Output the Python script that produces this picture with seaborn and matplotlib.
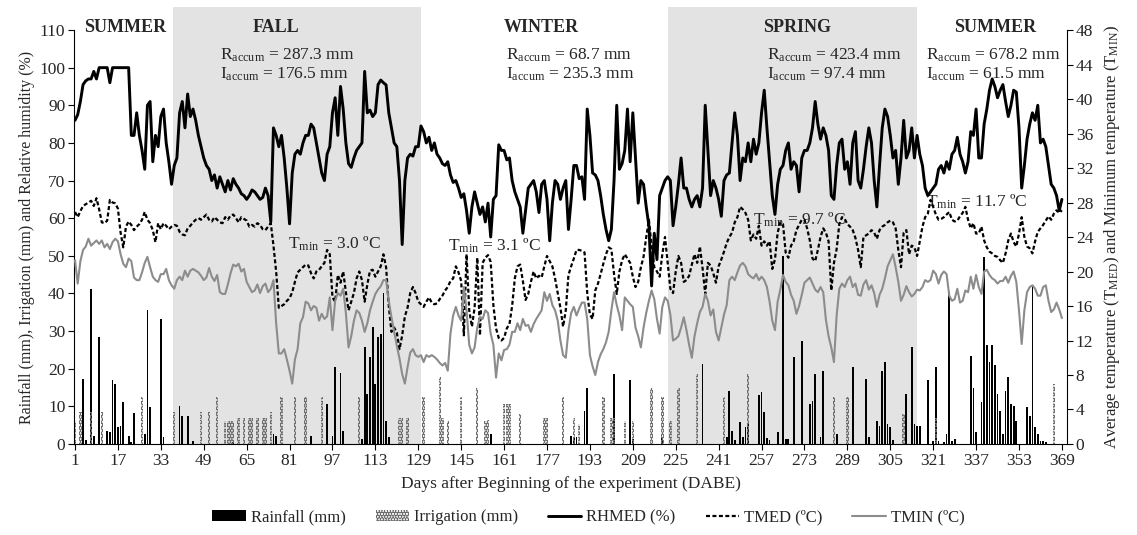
import numpy as np
import matplotlib
matplotlib.use("Agg")
import matplotlib.pyplot as plt
from matplotlib.patches import Patch
from matplotlib.lines import Line2D
import seaborn as sns

# ─────────────────────────────────────────────
# DAILY SERIES (DABE 1..369)
# ─────────────────────────────────────────────
days = np.arange(1, 370)

# relative humidity (%)
rh_summer = [86, 87.5, 91, 95.5, 96.5, 97, 97, 99, 97, 100, 100, 100, 100, 96, 100, 100, 100, 100, 100, 100,
             100, 82, 82, 88, 82, 78, 73, 90, 91, 75, 82, 79, 87, 89, 80, 75, 69, 74, 76, 88,
             91, 84, 93, 87, 89, 86, 82]
rh_fall_a = [79, 76, 74, 73, 70, 71.5, 68, 71, 69, 67, 70, 67.5, 70.5, 69, 68, 66.5, 66, 65, 66, 67.5,
             67, 66, 65, 65.5, 68, 66, 59, 84, 82, 79, 82, 76, 68, 58.5, 72, 77, 78, 77, 80, 82,
             82, 85, 84, 80, 76, 72, 70]
rh_fall_b = [77, 79, 88, 92, 82, 95, 89, 80, 74.5, 73.5, 76, 78, 79, 80, 99, 88, 88.7, 87, 88, 95.5,
             96.7, 96, 95.4, 88, 84, 80, 79, 70, 53, 70, 76, 77, 76.5, 79, 79, 84.5, 83, 80, 81.5, 78,
             80, 77, 76, 74.5, 74, 75]
rh_winter_a = [71.5, 69.5, 70, 68, 65.5, 66.5, 62, 56, 63, 67, 64, 61, 63, 59, 64, 55, 65, 66, 79.5, 78,
               78, 75.5, 76, 70, 67, 65, 63, 56, 62, 68, 69, 70, 67, 61.5, 69, 70, 65, 54, 64, 70,
               69, 65, 68, 70, 57, 65, 74]
rh_winter_b = [74, 70.5, 71, 65, 89, 82, 72, 71.5, 70, 66, 61, 57, 54, 57, 70, 90, 73, 74.5, 78, 89,
               75, 88, 76, 64, 70, 69, 63, 58, 42, 56, 49, 66, 68, 70, 71, 70, 58, 63, 69, 76,
               68, 68, 65, 63, 65, 66]
rh_spring_a = [63, 68, 90, 78, 66, 70, 68, 65, 60.5, 70, 71.5, 72, 80, 88, 82, 70, 76, 75, 80, 75,
               81, 77, 80, 88, 94, 84, 75, 66, 61, 69, 73, 74, 78, 80, 73, 75, 74, 67, 76, 78,
               78, 80, 84, 91, 85, 81, 84]
rh_spring_b = [82, 78, 66, 65, 74, 80, 81, 73, 75, 69, 80, 83, 70, 68, 73, 79, 84, 80, 70, 63,
               74, 84, 89, 87, 82, 76, 78, 69, 76, 86, 76, 78, 84, 76, 82, 77, 74, 68, 66, 67,
               68, 69, 73, 74, 72, 75, 73]
rh_summer2 = [77, 78, 81.5, 77, 75, 72, 75, 83, 82, 89, 76, 76, 85, 89, 94, 97, 95, 92, 94, 95.5,
              91, 87, 90, 94, 93.5, 84, 68, 74, 81, 85, 88, 86, 90, 80, 81, 79, 74, 69, 68, 66,
              62, 65]

# mean temperature (ºC)
tmed_summer = [26.9, 26.3, 27.0, 27.6, 27.8, 28.0, 28.2, 27.6, 28.5, 27.2, 25.7, 25.6, 25.9, 28.3, 28.0,
               27.9, 27.3, 24.5, 22.8, 25.2, 25.8, 25.4, 24.8, 25.2, 25.5, 26.0, 26.9, 26.0, 25.6, 24.8,
               23.4, 25.6, 24.9, 25.6, 25.3, 24.9, 25.2, 25.4, 25.3, 24.6, 24.3, 24.2, 25.0, 25.3, 25.7,
               26.0, 26.2]
tmed_fall_a = [26.0, 26.3, 26.6, 26.0, 25.8, 26.3, 26.0, 25.7, 25.6, 26.3, 26.0, 26.5, 26.6, 26.2, 25.7,
               26.3, 26.1, 25.9, 25.2, 25.4, 25.2, 25.6, 25.4, 24.9, 24.8, 25.2, 25.6, 23.0, 20.0, 15.8,
               16.0, 16.2, 16.6, 16.9, 17.6, 18.8, 19.9, 20.2, 20.5, 20.8, 20.7, 19.8, 19.2, 20.0, 20.2,
               20.6, 21.0]
tmed_fall_b = [22.5, 22.0, 17.0, 16.5, 19.6, 18.7, 20.0, 17.6, 15.5, 16.5, 17.5, 19.2, 20.0, 19.0, 16.5,
               18.5, 20.1, 20.2, 19.4, 20.0, 20.6, 22.0, 20.5, 16.0, 13.0, 13.5, 12.9, 11.0, 12.6, 14.8,
               15.8, 17.5, 18.2, 17.5, 16.5, 16.2, 15.9, 16.5, 17.0, 16.4, 16.2, 16.3, 16.8, 17.2, 17.8,
               18.2]
tmed_winter_a = [18.9, 19.2, 20.6, 19.9, 18.9, 12.6, 22.0, 15.5, 13.6, 15.8, 21.6, 12.6, 21.0, 21.6, 21.9,
                 21.1, 16.1, 13.4, 12.3, 12.0, 12.3, 13.4, 13.9, 16.0, 19.2, 20.6, 20.8, 18.9, 16.7, 17.4,
                 18.8, 20.0, 19.2, 19.5, 19.3, 20.6, 21.8, 21.2, 20.6, 19.2, 17.5, 15.8, 13.6, 15.5, 19.6,
                 20.6, 21.5]
tmed_winter_b = [22.5, 22.5, 22.4, 22.2, 17.5, 15.0, 14.5, 17.8, 18.6, 19.7, 20.9, 22.0, 22.8, 22.6, 19.7,
                 17.4, 20.0, 21.3, 22.0, 21.5, 21.0, 19.4, 18.2, 18.8, 20.5, 21.7, 24.0, 26.0, 23.0, 20.5,
                 20.0, 19.4, 22.0, 24.0, 21.0, 18.0, 17.5, 20.0, 21.8, 21.0, 18.8, 19.0, 19.5, 20.8, 22.0,
                 21.0]
tmed_spring_a = [22.9, 20.4, 17.4, 21.0, 20.7, 19.8, 18.7, 20.6, 21.4, 22.3, 23.3, 24.0, 24.5, 25.7, 26.3,
                 27.5, 27.2, 26.8, 26.0, 23.6, 24.3, 23.8, 25.3, 23.0, 23.5, 23.0, 23.5, 20.3, 21.4, 24.5,
                 25.7, 25.5, 22.2, 21.6, 23.0, 23.5, 24.8, 25.4, 26.0, 26.0, 25.0, 23.6, 21.5, 21.2, 22.5,
                 24.0, 25.0]
tmed_spring_b = [24.5, 23.5, 17.8, 21.0, 22.6, 25.5, 26.3, 26.1, 25.5, 25.2, 24.8, 23.9, 22.5, 20.5, 24.0,
                 24.2, 24.4, 24.8, 24.5, 23.8, 24.8, 25.2, 25.4, 25.7, 25.9, 25.7, 25.0, 22.5, 20.5, 24.5,
                 24.8, 22.0, 23.0, 22.8, 21.8, 23.5, 25.2, 26.3, 26.7, 28.3, 27.5, 26.6, 26.0, 26.1, 26.3,
                 26.6, 26.9]
tmed_summer2 = [26.0, 25.8, 25.9, 26.4, 26.8, 27.5, 26.0, 25.0, 25.6, 24.4, 24.4, 25.2, 23.6, 22.8, 22.3,
                22.1, 21.8, 21.7, 21.3, 21.0, 22.1, 23.6, 24.4, 23.4, 22.9, 24.4, 26.3, 24.0, 22.9, 22.7,
                22.1, 23.5, 24.6, 25.0, 25.4, 25.9, 26.4, 26.0, 26.7, 27.1, 26.8, 27.1]

# minimum temperature (ºC)
tmin_summer = [21.3, 18.6, 21.2, 22.5, 22.9, 23.8, 23.0, 23.3, 23.6, 23.2, 23.6, 22.8, 23.2, 22.6, 23.4,
               23.8, 23.5, 22.0, 20.9, 20.5, 21.5, 21.2, 19.3, 19.0, 19.0, 19.9, 21.0, 21.7, 20.5, 19.4,
               19.0, 18.8, 19.7, 19.7, 20.3, 19.0, 18.4, 18.0, 19.0, 19.4, 19.0, 20.1, 19.4, 20.1, 20.3,
               20.1, 19.9]
tmin_fall_a = [19.5, 19.0, 19.3, 20.4, 19.4, 18.9, 19.6, 17.6, 17.4, 17.4, 18.5, 19.8, 20.8, 20.6, 20.9,
               20.0, 20.3, 18.8, 18.2, 17.6, 17.8, 18.5, 17.5, 18.3, 18.6, 17.6, 18.0, 19.0, 14.0, 10.5,
               10.5, 11.0, 9.8, 8.5, 7.0, 9.8, 11.0, 14.0, 14.7, 16.5, 16.3, 15.5, 16.0, 15.8, 14.3,
               15.1, 14.5]
tmin_fall_b = [14.8, 17.0, 13.2, 16.6, 17.5, 17.2, 18.0, 15.2, 11.2, 12.5, 14.3, 15.5, 15.2, 14.3, 13.0,
               14.0, 15.5, 16.5, 17.4, 17.9, 18.3, 19.0, 19.0, 16.6, 14.7, 13.0, 11.4, 9.9, 8.1, 7.0,
               8.9, 10.6, 11.0, 10.3, 10.1, 10.3, 9.5, 10.3, 10.1, 10.3, 10.1, 9.8, 9.4, 9.1, 9.4,
               8.5]
tmin_winter_a = [12.8, 14.9, 15.9, 14.9, 14.3, 18.2, 15.5, 11.5, 10.5, 11.2, 13.5, 14.7, 14.5, 15.5, 15.2,
                 12.8, 11.5, 7.7, 10.5, 9.7, 10.9, 11.0, 11.5, 13.0, 13.0, 14.0, 13.2, 14.5, 13.7, 13.8,
                 13.0, 13.9, 14.5, 15.0, 15.5, 17.6, 16.6, 17.4, 16.1, 15.5, 14.3, 12.0, 10.3, 10.0, 13.2,
                 15.2, 15.9]
tmin_winter_b = [14.9, 15.7, 16.4, 16.4, 14.5, 10.3, 9.0, 8.0, 9.5, 10.4, 11.0, 11.8, 13.0, 15.5, 17.6,
                 16.1, 14.9, 13.2, 17.0, 16.6, 16.2, 15.9, 13.5, 12.5, 11.2, 13.5, 15.2, 16.6, 17.8, 16.8,
                 14.5, 12.8, 15.9, 17.0, 16.6, 15.0, 12.0, 12.2, 12.5, 13.5, 14.7, 13.2, 11.5, 10.0, 12.5,
                 14.0]
tmin_spring_a = [15.3, 15.9, 17.4, 16.6, 14.9, 15.6, 13.0, 12.0, 13.5, 15.0, 16.1, 19.0, 19.4, 19.0, 19.9,
                 20.7, 21.0, 20.6, 19.7, 19.4, 19.2, 19.7, 19.0, 19.4, 19.0, 18.2, 16.5, 14.3, 13.2, 16.5,
                 17.9, 19.6, 18.8, 18.4, 17.3, 16.6, 15.1, 16.0, 17.3, 18.7, 19.0, 19.3, 18.6, 17.9, 17.6,
                 18.2, 17.6]
tmin_spring_b = [14.4, 12.5, 11.2, 9.5, 14.9, 18.0, 18.6, 18.2, 19.0, 19.4, 18.2, 18.6, 17.3, 17.2, 18.5,
                 19.0, 17.9, 18.4, 17.5, 15.9, 17.3, 18.0, 19.2, 20.6, 21.3, 22.0, 20.5, 18.8, 16.6, 17.3,
                 18.3, 17.6, 17.1, 17.4, 17.9, 17.8, 18.2, 19.0, 18.8, 19.0, 20.1, 19.7, 18.6, 19.6, 20.0,
                 19.7, 17.2]
tmin_summer2 = [16.6, 16.8, 18.0, 16.4, 16.6, 17.8, 17.6, 19.4, 18.0, 19.6, 18.2, 17.4, 20.0, 20.2, 19.6,
                19.2, 19.0, 18.6, 18.9, 18.9, 19.4, 18.7, 19.5, 20.0, 18.8, 15.5, 11.6, 15.5, 17.6, 18.2,
                18.4, 18.0, 17.2, 17.2, 18.2, 18.4, 16.6, 15.3, 15.6, 16.4, 15.6, 14.6]

rhmed = (rh_summer + rh_fall_a + rh_fall_b + rh_winter_a + rh_winter_b
         + rh_spring_a + rh_spring_b + rh_summer2)
tmed = (tmed_summer + tmed_fall_a + tmed_fall_b + tmed_winter_a + tmed_winter_b
        + tmed_spring_a + tmed_spring_b + tmed_summer2)
tmin = (tmin_summer + tmin_fall_a + tmin_fall_b + tmin_winter_a + tmin_winter_b
        + tmin_spring_a + tmin_spring_b + tmin_summer2)

# rainfall events (mm)
rain_day = [4, 5, 7, 8, 10, 13, 14, 15, 16, 17, 18, 19, 21, 22, 23, 27, 28, 29, 33, 34, 40, 41, 43, 45,
            60, 75, 76, 89, 95, 97, 98, 100, 101, 108, 109, 110, 111, 112, 113, 114, 115, 116, 117, 118,
            156, 186, 187, 188, 191, 192, 202, 208, 209, 220,
            235, 244, 245, 246, 247, 249, 250, 251, 252, 256, 257, 258, 259, 260, 263, 265, 266, 267,
            269, 272, 275, 276, 277, 279, 280,
            285, 291, 296, 297, 300, 301, 302, 303, 304, 305, 306, 311, 313, 314, 315, 316, 319, 321,
            322, 323, 325, 326, 327, 328, 329,
            335, 336, 337, 339, 340, 341, 342, 343, 344, 345, 346, 347, 348, 349, 350, 351, 352,
            356, 357, 358, 359, 360, 361, 362, 363]
rain_mm = [17.3, 1.0, 41.3, 2.2, 28.4, 3.5, 3.3, 16.9, 16.0, 4.4, 4.9, 11.1, 2.2, 0.5, 8.2, 2.7, 35.5, 9.8,
           33.3, 1.8, 10.2, 7.5, 7.5, 0.9,
           0.5, 2.7, 2.2, 2.2, 10.6, 2.2, 20.4, 18.8, 3.5, 1.3, 25.7, 13.3, 23.0, 31.0, 16.0, 28.4, 29.3,
           40.0, 6.2, 1.8,
           2.7, 2.2, 1.8, 1.8, 8.9, 15.0, 18.6, 16.9, 1.3, 1.8,
           21.3, 1.8, 14.2, 3.5, 1.0, 5.8, 1.8, 4.4, 5.3, 12.9, 13.8, 8.4, 1.5, 1.0, 3.1, 50.0, 1.3, 1.3,
           23.0, 27.5, 10.6, 11.5, 18.6, 1.8, 19.5,
           2.7, 20.4, 17.3, 1.8, 6.2, 4.9, 19.5, 21.7, 5.3, 4.4, 1.0, 13.3, 25.7, 5.3, 4.9, 4.9, 16.9, 0.9,
           20.4, 0.9, 0.5, 2.7, 40.4, 0.9, 1.3,
           23.5, 15.0, 3.1, 11.1, 49.7, 26.2, 21.7, 26.2, 20.9, 13.3, 8.9, 2.7, 14.2, 17.7, 10.6, 10.2, 6.2,
           9.8, 7.5, 42.0, 4.4, 2.7, 0.9, 0.9, 0.5]

# irrigation events (mm)
irr_day = [1, 3, 7, 11, 26, 38, 48, 51, 54, 57, 58, 59, 60, 62, 64, 66, 67, 69, 71, 72, 74, 78, 83, 87,
           93, 107, 122, 123, 125, 131, 137, 138, 140, 145, 151, 154, 155, 161, 162, 163, 167, 176, 177,
           183, 187, 189, 198, 201, 202, 206, 209, 216, 220, 223, 226, 233, 243, 252, 284, 289, 310, 322,
           366]
irr_mm = [6.2, 8.4, 8.4, 8.4, 12.4, 8.4, 8.4, 8.4, 12.4, 6.2, 6.2, 6.2, 6.2, 7.0, 7.0, 7.0, 7.0, 7.0,
          7.0, 7.0, 8.4, 12.4, 12.4, 12.4, 12.4, 12.4, 7.0, 7.0, 7.0, 12.4, 17.7, 7.0, 6.2, 12.4, 15.0,
          6.2, 6.5, 10.6, 10.6, 10.6, 8.0, 7.0, 7.0, 12.4, 7.0, 5.3, 12.4, 7.0, 7.0, 6.2, 6.2, 15.0, 12.4,
          6.2, 15.0, 18.6, 12.4, 18.6, 12.4, 12.4, 8.0, 7.0, 16.0]

# seasons and annotations
season_names = ["SUMMER", "FALL", "WINTER", "SPRING", "SUMMER"]
season_edges = [(0.8, 37.5), (37.5, 130.0), (130.0, 222.0), (222.0, 315.0), (315.0, 370.8)]
season_shaded = [False, True, False, True, False]
r_accum = [287.3, 68.7, 423.4, 678.2]
i_accum = [176.5, 235.3, 97.4, 61.5]
tmin_season = [3.0, 3.1, 9.7, 11.7]

# ─────────────────────────────────────────────
# LAYOUT (positions only)
# ─────────────────────────────────────────────
season_label_x = [19.6, 76.1, 174.9, 270.4, 344.0]
accum_text_x = [55.1, 161.6, 258.9, 318.3]
tmin_text_x = [80.5, 140.2, 253.9, 318.3]
tmin_text_y = [51.8, 51.5, 58.2, 63.0]

SHADE = "#e3e3e3"
IRR_COLOR = "#6e6e6e"
TMIN_COLOR = "#8c8c8c"
FS = 12.5

sns.set_theme(style="ticks")
plt.rcParams["font.family"] = ["Liberation Serif", "DejaVu Serif"]
plt.rcParams["mathtext.fontset"] = "custom"
plt.rcParams["mathtext.rm"] = "Liberation Serif"
plt.rcParams["mathtext.it"] = "Liberation Serif:italic"
plt.rcParams["mathtext.default"] = "regular"
plt.rcParams["hatch.linewidth"] = 2.2

fig = plt.figure(figsize=(11.37, 5.35), dpi=100)
ax = fig.add_axes([0.0655, 0.1701, 0.8727, 0.7738])

for (a, b), shade in zip(season_edges, season_shaded):
    if shade:
        ax.axvspan(a, b, ymin=0, ymax=1.056, color=SHADE, lw=0, zorder=0, clip_on=False)

# bars
sns.barplot(x=rain_day, y=rain_mm, native_scale=True, width=0.65, color="black",
            saturation=1, errorbar=None, linewidth=0, ax=ax)
sns.barplot(x=irr_day, y=irr_mm, native_scale=True, width=0.9, color=IRR_COLOR,
            saturation=1, errorbar=None, linewidth=0, ax=ax)
for p in ax.containers[-1]:
    p.set_facecolor("none")
    p.set_edgecolor(IRR_COLOR)
    p.set_hatch("......")

# lines
sns.lineplot(x=days, y=rhmed, ax=ax, color="black", lw=2.1, zorder=4)
ax2 = ax.twinx()
sns.lineplot(x=days, y=tmed, ax=ax2, color="black", lw=1.6)
ax2.lines[-1].set_linestyle((0, (1.8, 1.1)))
sns.lineplot(x=days, y=tmin, ax=ax2, color=TMIN_COLOR, lw=1.5)

# axes
ax.set_xlim(0.8, 370.8)
ax.set_ylim(0, 110)
ax2.set_ylim(0, 48)
ax.set_xticks(np.arange(1, 370, 16))
ax.set_yticks(np.arange(0, 111, 10))
ax2.set_yticks(np.arange(0, 49, 4))
for a_ in (ax, ax2):
    a_.tick_params(direction="out", length=4, width=0.8, labelsize=FS, color="black", pad=2.5)
ax.spines[["top", "right"]].set_visible(False)
ax2.spines[["top", "left", "bottom"]].set_visible(False)
for s in ("left", "bottom"):
    ax.spines[s].set_linewidth(0.8)
    ax.spines[s].set_color("black")
ax2.spines["right"].set_linewidth(0.8)
ax2.spines["right"].set_color("black")

ax.set_xlabel("Days after Beginning of the experiment (DABE)", fontsize=FS, labelpad=5)
ax.set_ylabel("Rainfall (mm), Irrigation (mm) and Relative humidity (%)", fontsize=11.5, labelpad=3)
ax2.set_ylabel("Average temperature (T$_{MED}$) and Minimum temperature (T$_{MIN}$)",
               fontsize=12, labelpad=6)

# annotations
for name, xc in zip(season_names, season_label_x):
    ax.text(xc, 109.6, name, ha="center", va="baseline", fontsize=13, fontweight="bold")
for r, i, x0 in zip(r_accum, i_accum, accum_text_x):
    ax.text(x0, 102.2, f"R$_{{accum}}$ = {r:.1f} mm", ha="left", va="baseline", fontsize=FS)
    ax.text(x0, 97.2, f"I$_{{accum}}$ = {i:.1f} mm", ha="left", va="baseline", fontsize=FS)
for t, x0, y0 in zip(tmin_season, tmin_text_x, tmin_text_y):
    ax.text(x0, y0, f"T$_{{min}}$ = {t:.1f} ºC", ha="left", va="baseline", fontsize=FS)

# legend
handles = [
    Patch(facecolor="black", edgecolor="none"),
    Patch(facecolor="none", edgecolor=IRR_COLOR, hatch="......", lw=0),
    Line2D([], [], color="black", lw=2.1),
    Line2D([], [], color="black", lw=1.6, linestyle=(0, (1.8, 1.1))),
    Line2D([], [], color=TMIN_COLOR, lw=1.5),
]
labels = ["Rainfall (mm)", "Irrigation (mm)", "RHMED (%)", "TMED (ºC)", "TMIN (ºC)"]
fig.legend(handles, labels, loc="center", bbox_to_anchor=(0.5176, 0.033), ncol=5, frameon=False,
           fontsize=12, handlelength=2.0, columnspacing=1.8, handletextpad=0.3)

fig.savefig("out.png", dpi=100)
